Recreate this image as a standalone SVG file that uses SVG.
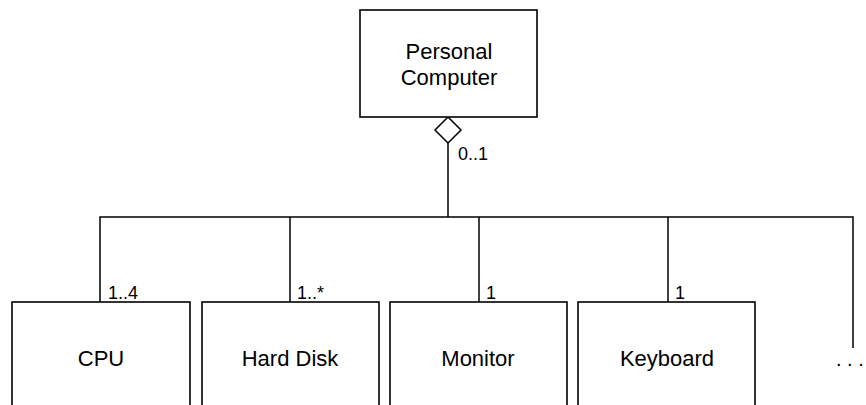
<svg xmlns="http://www.w3.org/2000/svg" width="866" height="405" viewBox="0 0 866 405">
<style>
.box{fill:#fff;stroke:#000;stroke-width:1.6}
.ln{fill:none;stroke:#000;stroke-width:1.5}
.t{font-family:"Liberation Sans",Arial,sans-serif;font-size:22px;fill:#000;text-anchor:middle}
.m{font-family:"Liberation Sans",Arial,sans-serif;font-size:18px;fill:#000}
</style>
<rect width="866" height="405" fill="#fff"/>
<g id="connectors">
<polygon class="ln" points="448,117 461,130 448,143 435,130" fill="#fff"/>
<line class="ln" x1="448" y1="143" x2="448" y2="217"/>
<polyline class="ln" points="100,302 100,217 853,217 853,348"/>
<line class="ln" x1="290" y1="217" x2="290" y2="302"/>
<line class="ln" x1="479" y1="217" x2="479" y2="302"/>
<line class="ln" x1="668" y1="217" x2="668" y2="302"/>
<text class="m" x="458" y="160">0..1</text>
<text class="m" x="108" y="299">1..4</text>
<text class="m" x="297" y="299">1..*</text>
<text class="m" x="486" y="299">1</text>
<text class="m" x="675" y="299">1</text>
</g>
<g id="pc">
<rect class="box" x="360" y="10" width="177" height="107"/>
<text class="t" x="449" y="59">Personal</text>
<text class="t" x="449" y="85">Computer</text>
</g>
<g id="cpu">
<rect class="box" x="12" y="302" width="178" height="110"/>
<text class="t" x="101" y="366">CPU</text>
</g>
<g id="harddisk">
<rect class="box" x="202" y="302" width="177" height="110"/>
<text class="t" x="290" y="366">Hard Disk</text>
</g>
<g id="monitor">
<rect class="box" x="390" y="302" width="177" height="110"/>
<text class="t" x="478" y="366">Monitor</text>
</g>
<g id="keyboard">
<rect class="box" x="578" y="302" width="177" height="110"/>
<text class="t" x="667" y="366">Keyboard</text>
</g>
<g id="more">
<text class="m" x="836" y="366" style="font-size:20px">. . .</text>
</g>
</svg>
